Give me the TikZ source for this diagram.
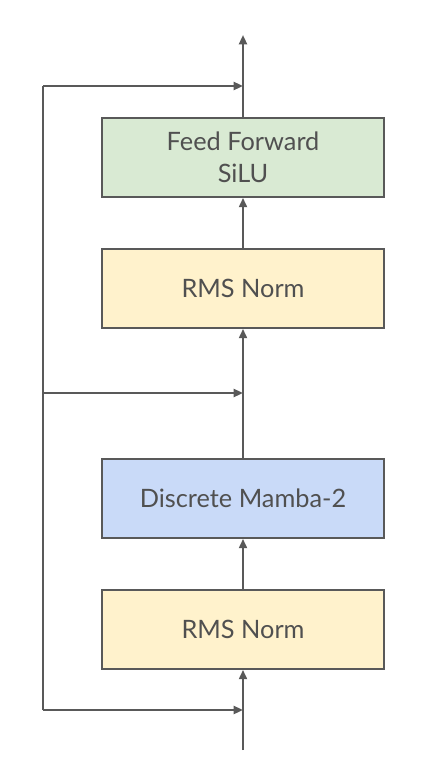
\documentclass[tikz,border=0pt]{standalone}
\usepackage{fontspec}
\setmainfont{Lato}
\usetikzlibrary{arrows.meta}

\definecolor{linegray}{HTML}{595959}
\definecolor{textgray}{HTML}{505050}
\definecolor{normyellow}{HTML}{FFF2CC}
\definecolor{mambablue}{HTML}{C9DAF8}
\definecolor{ffgreen}{HTML}{D9EAD3}

\begin{document}
\begin{tikzpicture}
  [x=0.75pt,y=-0.75pt,
   block/.style={rectangle, draw=linegray, line width=1.6pt, minimum width=212pt, minimum height=59pt,
                 text=textgray, align=center, font=\fontsize{19}{24}\selectfont},
   flow/.style={draw=linegray, line width=1.6pt, -{Triangle[length=7pt,width=6pt]}},
   wire/.style={draw=linegray, line width=1.6pt}]
  \useasboundingbox (0,0) rectangle (428,774);

  \node[block, fill=normyellow] (N1) at (243,629.5) {RMS Norm};
  \node[block, fill=mambablue] (M) at (243,498.5) {Discrete Mamba-2};
  \node[block, fill=normyellow] (N2) at (243,288.5) {RMS Norm};
  \node[block, fill=ffgreen] (FF) at (243,157.5) {Feed Forward\\SiLU};

  \coordinate (in) at (243,750);
  \coordinate (out) at (243,35);
  \coordinate (s1) at (243,710);
  \coordinate (s2) at (243,393);
  \coordinate (s3) at (243,86);
  \coordinate (l1) at (43,710);
  \coordinate (l2) at (43,393);
  \coordinate (l3) at (43,86);

  \foreach \from / \to in {in/N1, N1/M, s2/N2, N2/FF, FF/out, l1/s1, l2/s2, l3/s3}
    \draw[flow] (\from) -- (\to);
  \draw[wire] (M) -- (s2);
  \draw[wire] (l1) -- (l3);

\end{tikzpicture}
\end{document}
